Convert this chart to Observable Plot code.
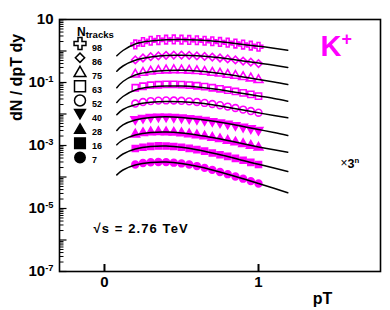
<!DOCTYPE html>
<html><head><meta charset="utf-8">
<script src="https://cdn.jsdelivr.net/npm/d3@7"></script>
<script src="https://cdn.jsdelivr.net/npm/@observablehq/plot@0.6"></script>
<style>
body{margin:0;background:#fff;}
#chart{position:absolute;left:0;top:0;}
</style></head><body><div id="chart"></div>
<script>
// ---------------- data ----------------
const multiplicities = [98, 86, 75, 63, 52, 40, 28, 16, 7];
const legendLabels = ["98", "86", "75", "63", "52", "40", "28", "16", "7"];
const yTickLabels = [10, 1e-1, 1e-3, 1e-5, 1e-7];
const xTickLabels = [0, 1];

// fit curves (already scaled by 3^n)
const fitPT = [0.08, 0.12, 0.2, 0.3, 0.4, 0.5, 0.6, 0.7, 0.8, 0.9, 1.0, 1.1, 1.19];
const fit98 = [0.704, 1.037, 1.668, 2.077, 2.268, 2.318, 2.218, 2.077, 1.862, 1.608, 1.420, 1.227, 1.060];
const fit86 = [0.2285, 0.334, 0.510, 0.645, 0.720, 0.730, 0.704, 0.645, 0.566, 0.482, 0.416, 0.352, 0.300];
const fit75 = [0.0679, 0.1076, 0.173, 0.219, 0.240, 0.244, 0.232, 0.208, 0.180, 0.150, 0.125, 0.104, 0.0864];
const fit63 = [0.0232, 0.0359, 0.0578, 0.0720, 0.0774, 0.0774, 0.0720, 0.0631, 0.0537, 0.0448, 0.0373, 0.0311, 0.0255];
const fit52 = [0.00943, 0.0139, 0.0196, 0.0235, 0.0249, 0.0244, 0.0227, 0.0196, 0.0163, 0.0134, 0.0109, 0.00896, 0.00757];
const fit40 = [0.00299, 0.00448, 0.00645, 0.00774, 0.00815, 0.00774, 0.00694, 0.0060, 0.00499, 0.00401, 0.00322, 0.00259, 0.00208];
const fit28 = [0.00105, 0.00150, 0.00215, 0.00259, 0.00268, 0.00249, 0.00215, 0.00180, 0.00144, 0.00113, 0.000896, 0.00073, 0.000613];
const fit16 = [0.000378, 0.000537, 0.000774, 0.00093, 0.000964, 0.000877, 0.00073, 0.000578, 0.000448, 0.000334, 0.000253, 0.000193, 0.00015];
const fit7  = [0.000117, 0.000167, 0.00024, 0.000289, 0.000299, 0.000268, 0.000219, 0.000167, 0.000123, 0.0000883, 0.0000622, 0.0000438, 0.0000315];

// measured points (already scaled by 3^n)
const dataPT = [0.2, 0.25, 0.3, 0.35, 0.4, 0.45, 0.5, 0.55, 0.6, 0.65, 0.7, 0.75, 0.8, 0.85, 0.9, 0.95, 1.0];
const data98 = [1.62, 1.93, 2.12, 2.22, 2.30, 2.33, 2.30, 2.25, 2.20, 2.12, 2.04, 1.94, 1.84, 1.72, 1.60, 1.48, 1.36];
const data86 = [0.52, 0.60, 0.66, 0.70, 0.73, 0.74, 0.74, 0.73, 0.70, 0.67, 0.64, 0.60, 0.56, 0.52, 0.48, 0.44, 0.40];
const data75 = [0.180, 0.205, 0.224, 0.236, 0.244, 0.248, 0.246, 0.240, 0.232, 0.220, 0.206, 0.194, 0.178, 0.164, 0.150, 0.136, 0.120];
const data63 = [0.068, 0.076, 0.082, 0.085, 0.087, 0.087, 0.086, 0.083, 0.079, 0.074, 0.068, 0.063, 0.057, 0.052, 0.047, 0.042, 0.037];
const data52 = [0.0215, 0.0240, 0.0257, 0.0266, 0.0270, 0.0268, 0.0262, 0.0252, 0.0240, 0.0225, 0.0208, 0.0190, 0.0172, 0.0155, 0.0138, 0.0124, 0.0110];
const data40 = [0.0068, 0.0075, 0.0080, 0.0082, 0.0082, 0.0080, 0.0077, 0.0073, 0.0069, 0.0064, 0.0059, 0.0054, 0.0049, 0.0044, 0.0039, 0.0035, 0.0031];
const data28 = [0.00225, 0.00250, 0.00265, 0.00270, 0.00266, 0.00258, 0.00246, 0.00230, 0.00213, 0.00196, 0.00178, 0.00160, 0.00143, 0.00127, 0.00112, 0.00099, 0.00086];
const data16 = [0.00080, 0.00088, 0.00094, 0.00097, 0.00096, 0.00093, 0.00088, 0.00081, 0.00074, 0.00066, 0.00058, 0.00051, 0.00045, 0.00039, 0.00034, 0.00029, 0.00025];
const data7  = [0.000250, 0.000277, 0.000293, 0.000300, 0.000296, 0.000285, 0.000270, 0.000248, 0.000222, 0.000195, 0.000168, 0.000144, 0.000123, 0.000104, 0.0000885, 0.0000740, 0.0000620];

const fits = [fit98, fit86, fit75, fit63, fit52, fit40, fit28, fit16, fit7];
const points = [data98, data86, data75, data63, data52, data40, data28, data16, data7];

// ---------------- styles ----------------
const MAG = "#ff00ff";
const markerStyle = [
  {symbol: "cross", fill: false, rotate: 0, r: 3.6, lr: 5, ldy: 0},
  {symbol: "square", fill: false, rotate: 45, r: 3.0, lr: 3.7, ldy: 0},
  {symbol: "triangle", fill: false, rotate: 0, r: 3.3, lr: 4.4, ldy: 1.2},
  {symbol: "square", fill: false, rotate: 0, r: 3.5, lr: 6.2, ldy: 0},
  {symbol: "circle", fill: false, rotate: 0, r: 3.4, lr: 5.5, ldy: 0},
  {symbol: "triangle", fill: true, rotate: 180, r: 3.2, lr: 4.0, ldy: -2.2},
  {symbol: "triangle", fill: true, rotate: 0, r: 3.2, lr: 4.0, ldy: 1.2},
  {symbol: "square", fill: true, rotate: 0, r: 3.4, lr: 6.0, ldy: 0},
  {symbol: "circle", fill: true, rotate: 0, r: 3.4, lr: 5.2, ldy: 0}
];

const W = 390, H = 310;
const M = {top: 19, right: 10, bottom: 39, left: 59};
const plotW = W - M.left - M.right;
const plotH = H - M.top - M.bottom;

const majorTicks = d3.range(-7, 2).map(e => Math.pow(10, e));
const minorTicks = d3.range(-7, 1).flatMap(e => d3.range(2, 10).map(k => k * Math.pow(10, e)));

const fitRows = multiplicities.flatMap((n, i) => fitPT.map((pt, j) => ({n, pt, v: fits[i][j]})));

const marks = [];
marks.push(Plot.tickY(minorTicks, {y: d => d, stroke: "black", strokeWidth: 1, insetRight: plotW - 4.5}));
marks.push(Plot.tickY(majorTicks, {y: d => d, stroke: "black", strokeWidth: 1.2, insetRight: plotW - 7.5}));
marks.push(Plot.tickX(xTickLabels, {x: d => d, stroke: "black", strokeWidth: 2, insetTop: plotH - 7}));

points.forEach((arr, i) => {
  const s = markerStyle[i];
  marks.push(Plot.dot(dataPT.map((pt, j) => ({pt, v: arr[j]})), {
    x: "pt", y: "v", symbol: s.symbol, r: s.r, rotate: s.rotate,
    stroke: MAG, strokeWidth: 1.6, fill: s.fill ? MAG : "none"
  }));
});

marks.push(Plot.line(fitRows, {x: "pt", y: "v", z: "n", curve: "natural", stroke: "black", strokeWidth: 1.5}));
marks.push(Plot.frame({stroke: "black", strokeWidth: 1.6}));

marks.push(Plot.axisY(yTickLabels, {
  tickSize: 0, tickPadding: 6, label: null, fontSize: 15, fontWeight: "bold",
  tickFormat: d => { const e = Math.round(Math.log10(d)); return e === 1 ? "10" : `10^{${e}}`; }
}));
marks.push(Plot.axisX(xTickLabels, {
  tickSize: 0, tickPadding: 5, label: null, fontSize: 15, fontWeight: "bold", tickFormat: d => String(d)
}));

// axis titles
marks.push(Plot.text(["dN / dpT dy"], {text: d => d, frameAnchor: "top-left", dx: -43, dy: 58, rotate: -90,
  textAnchor: "middle", lineAnchor: "middle", fontSize: 16, fontWeight: "bold", fill: "black"}));
marks.push(Plot.text(["pT"], {text: d => d, frameAnchor: "bottom-right", dx: -58, dy: 27,
  textAnchor: "middle", lineAnchor: "middle", fontSize: 16, fontWeight: "bold", fill: "black"}));

// annotations
marks.push(Plot.text(["K^{+}"], {text: d => d, frameAnchor: "top-right", dx: -60, dy: 27,
  textAnchor: "start", lineAnchor: "middle", fontSize: 29, fontWeight: "bold", fill: MAG}));
marks.push(Plot.text(["×"], {text: d => d, frameAnchor: "top-right", dx: -36.5, dy: 144,
  textAnchor: "middle", lineAnchor: "middle", fontSize: 12, fill: "black"}));
marks.push(Plot.text(["3^{n}"], {text: d => d, frameAnchor: "top-right", dx: -33, dy: 144,
  textAnchor: "start", lineAnchor: "middle", fontSize: 12.5, fontWeight: "bold", fill: "black"}));
marks.push(Plot.text(["√s = 2.76 TeV"], {text: d => d, frameAnchor: "top-left", dx: 34, dy: 209,
  textAnchor: "start", lineAnchor: "middle", fontSize: 13, fontWeight: "bold", fill: "black"}));

// legend
marks.push(Plot.text(["N_{tracks}"], {text: d => d, frameAnchor: "top-left", dx: 17.5, dy: 13,
  textAnchor: "start", lineAnchor: "middle", fontSize: 12, fontWeight: "bold", fill: "black"}));
legendLabels.forEach((lab, i) => {
  const s = markerStyle[i];
  marks.push(Plot.dot([lab], {frameAnchor: "top-left", dx: 20.5, dy: 24 + 14.25 * i + s.ldy,
    symbol: s.symbol, r: s.lr, rotate: s.rotate, stroke: "black", strokeWidth: 1.5, fill: s.fill ? "black" : "none"}));
  marks.push(Plot.text([lab], {text: d => d, frameAnchor: "top-left", dx: 32.5, dy: 28.7 + 14.05 * i,
    textAnchor: "start", lineAnchor: "middle", fontSize: 9, fontWeight: "bold", fill: "black"}));
});

const chart = Plot.plot({
  width: W, height: H,
  marginTop: M.top, marginRight: M.right, marginBottom: M.bottom, marginLeft: M.left,
  style: {fontFamily: "'Liberation Sans', Arial, sans-serif", background: "white", color: "black", overflow: "visible"},
  x: {type: "linear", domain: [-0.292, 1.792]},
  y: {type: "log", domain: [1e-7, 10]},
  marks
});
document.getElementById("chart").appendChild(chart);

// rich text: ^{sup} and _{sub}
const NS = "http://www.w3.org/2000/svg";
chart.querySelectorAll("text").forEach(t => {
  const s = t.textContent;
  if (s.startsWith("√s")) t.style.letterSpacing = "1.1px";
  if (!/[\^_]\{/.test(s)) return;
  const fs = parseFloat(getComputedStyle(t).fontSize) || 12;
  while (t.firstChild) t.removeChild(t.firstChild);
  const add = (txt, size, dy) => {
    const ts = document.createElementNS(NS, "tspan");
    ts.textContent = txt;
    if (size) ts.setAttribute("font-size", size);
    if (dy) ts.setAttribute("dy", dy);
    t.appendChild(ts);
  };
  const re = /([\^_])\{([^}]*)\}/g;
  let last = 0, m, shift = 0;
  while ((m = re.exec(s))) {
    if (m.index > last) { add(s.slice(last, m.index), null, shift ? -shift : null); shift = 0; }
    const sup = m[1] === "^";
    const d = sup ? -0.38 * fs : 0.12 * fs;
    add(m[2], (sup ? 0.62 : 0.8) * fs, d - shift);
    shift = d;
    last = re.lastIndex;
  }
  if (last < s.length) add(s.slice(last), null, shift ? -shift : null);
});
</script>
</body></html>
